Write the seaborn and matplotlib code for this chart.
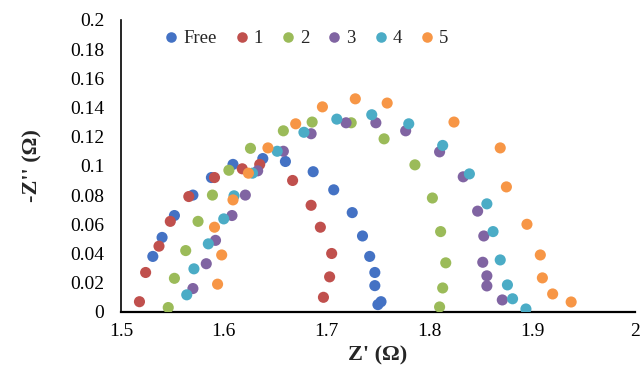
import matplotlib
matplotlib.use("Agg")
import matplotlib.pyplot as plt
from matplotlib.ticker import FixedLocator, FuncFormatter
import seaborn as sns
import pandas as pd

series_names = ["Free", "1", "2", "3", "4", "5"]
colors = ["#4472C4", "#C0504D", "#9BBB59", "#8064A2", "#4BACC6", "#F79646"]

free_x = [1.531, 1.540, 1.552, 1.570, 1.588, 1.609, 1.638, 1.660, 1.687, 1.707, 1.725, 1.735, 1.742, 1.747, 1.747, 1.750, 1.753]
free_y = [0.038, 0.051, 0.066, 0.080, 0.092, 0.101, 0.105, 0.103, 0.096, 0.0836, 0.068, 0.052, 0.038, 0.027, 0.018, 0.005, 0.007]

s1_x = [1.518, 1.524, 1.537, 1.548, 1.566, 1.591, 1.618, 1.635, 1.667, 1.685, 1.694, 1.705, 1.703, 1.697]
s1_y = [0.007, 0.027, 0.045, 0.062, 0.079, 0.092, 0.098, 0.101, 0.090, 0.073, 0.058, 0.040, 0.024, 0.010]

s2_x = [1.546, 1.552, 1.563, 1.575, 1.589, 1.605, 1.626, 1.658, 1.686, 1.724, 1.756, 1.786, 1.803, 1.811, 1.816, 1.813, 1.810]
s2_y = [0.003, 0.023, 0.042, 0.062, 0.080, 0.097, 0.112, 0.124, 0.130, 0.1295, 0.1185, 0.1007, 0.078, 0.055, 0.0336, 0.0164, 0.0034]

s3_x = [1.570, 1.583, 1.592, 1.608, 1.621, 1.633, 1.658, 1.685, 1.719, 1.748, 1.777, 1.810, 1.833, 1.847, 1.853, 1.852, 1.856, 1.856, 1.871]
s3_y = [0.016, 0.033, 0.049, 0.066, 0.080, 0.0966, 0.110, 0.122, 0.1295, 0.1295, 0.124, 0.1096, 0.0925, 0.069, 0.052, 0.034, 0.0247, 0.0178, 0.0082]

s4_x = [1.564, 1.571, 1.585, 1.600, 1.610, 1.628, 1.652, 1.678, 1.710, 1.744, 1.780, 1.813, 1.839, 1.856, 1.862, 1.869, 1.876, 1.881, 1.894]
s4_y = [0.0117, 0.0295, 0.0466, 0.0637, 0.0795, 0.095, 0.110, 0.123, 0.132, 0.135, 0.1288, 0.114, 0.0945, 0.074, 0.055, 0.0356, 0.0185, 0.009, 0.002]

s5_x = [1.594, 1.598, 1.591, 1.609, 1.624, 1.643, 1.670, 1.696, 1.728, 1.759, 1.824, 1.869, 1.875, 1.895, 1.908, 1.910, 1.920, 1.938]
s5_y = [0.019, 0.039, 0.058, 0.0767, 0.095, 0.1123, 0.1288, 0.1404, 0.1459, 0.143, 0.130, 0.1123, 0.0856, 0.060, 0.039, 0.0233, 0.0123, 0.0068]

x_ticks = [1.5, 1.6, 1.7, 1.8, 1.9, 2.0]
y_ticks = [0, 0.02, 0.04, 0.06, 0.08, 0.1, 0.12, 0.14, 0.16, 0.18, 0.2]

xs = [free_x, s1_x, s2_x, s3_x, s4_x, s5_x]
ys = [free_y, s1_y, s2_y, s3_y, s4_y, s5_y]
rows = []
for name, sx, sy in zip(series_names, xs, ys):
    for a, b in zip(sx, sy):
        rows.append({"x": a, "y": b, "series": name})
df = pd.DataFrame(rows)

sns.set_style("white")
plt.rcParams["font.family"] = ["Liberation Serif", "DejaVu Serif"]

fig = plt.figure(figsize=(6.4, 3.74), dpi=100)
ax = fig.add_axes([0.189, 0.166, 0.803, 0.781])

sns.scatterplot(data=df, x="x", y="y", hue="series", hue_order=series_names,
                palette=colors, s=64, linewidth=0, ax=ax, legend=True)

ax.set_xlim(1.5, 2.0)
ax.set_ylim(0, 0.2)
ax.xaxis.set_major_locator(FixedLocator(x_ticks))
ax.yaxis.set_major_locator(FixedLocator(y_ticks))
fmt = FuncFormatter(lambda v, p: ("%g" % round(v, 3)))
ax.xaxis.set_major_formatter(fmt)
ax.yaxis.set_major_formatter(fmt)
ax.tick_params(axis="both", length=0, labelsize=14, labelcolor="black")
ax.tick_params(axis="x", pad=8)
ax.tick_params(axis="y", pad=12)

for side in ["top", "right"]:
    ax.spines[side].set_visible(False)
ax.spines["bottom"].set_color("black")
ax.spines["bottom"].set_linewidth(1.6)
ax.spines["left"].set_color("black")
ax.spines["left"].set_linewidth(1.2)
ax.spines["bottom"].set_zorder(0.5)

ax.set_xlabel("Z' (Ω)", fontsize=16, fontweight="bold", labelpad=4)
ax.set_ylabel("-Z'' (Ω)", fontsize=16, fontweight="bold", labelpad=20)

handles, labels = ax.get_legend_handles_labels()
ax.legend(handles, labels, loc="upper left", bbox_to_anchor=(0.058, 1.003), ncol=6,
          frameon=False, fontsize=13.5, handlelength=1.0, handletextpad=0.12,
          columnspacing=0.85, markerscale=0.95, borderaxespad=0.2)

fig.savefig("out.png", dpi=100)
